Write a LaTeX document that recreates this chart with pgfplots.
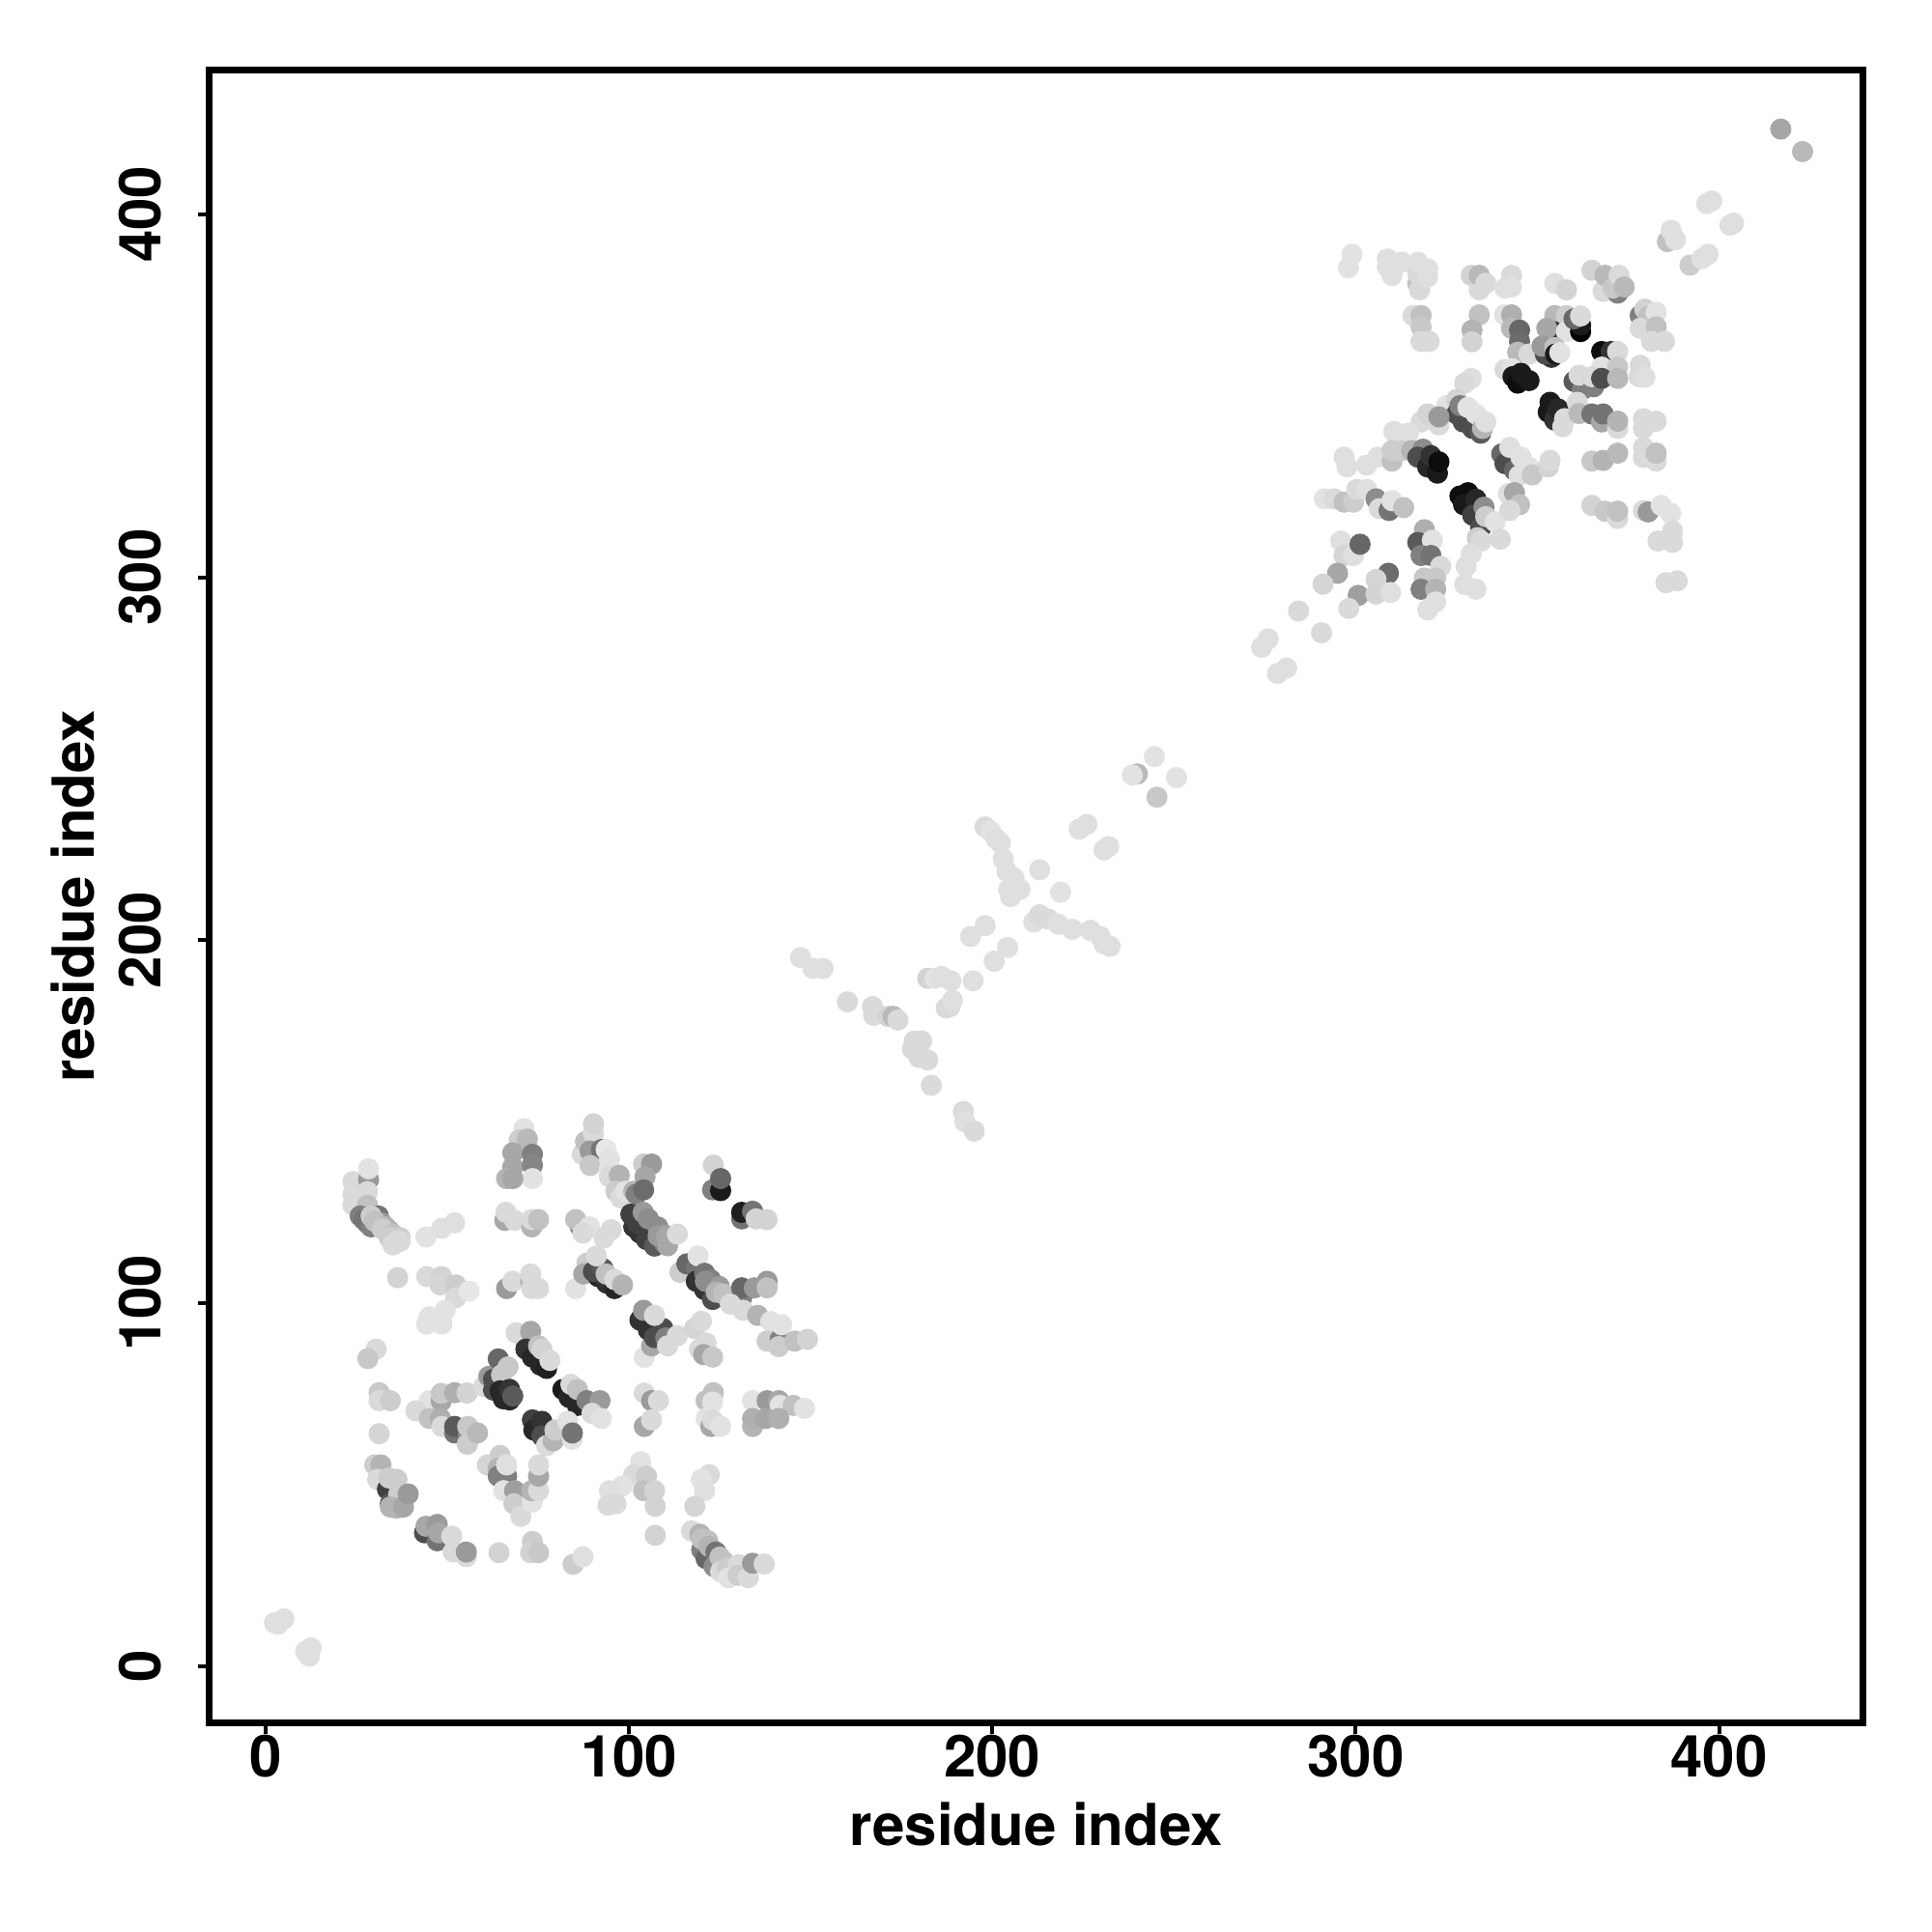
\documentclass[border=0pt]{standalone}
\usepackage{fontspec}
\setmainfont{TeX Gyre Heros}
\usepackage{pgfplots}
\usepackage{pgfplotstable}
\pgfplotsset{compat=1.18}
% filled circle without any stroke
\pgfdeclareplotmark{dot}{\pgfpathcircle{\pgfpointorigin}{\pgfplotmarksize}\pgfusepathqfill}
% x y grey level (0 black, 1 white), dark points first in each group so the light ones lie on top
\pgfplotstableread{
x y g
3.4 11.5 .87
5 13 .87
2.4 11.9 .87
11 4 .87
12.5 5 .87
12 2.7 .87
24 133.5 .85
24 130 .85
24 127 .85
28.3 134 .6
28.3 137 .88
28 130.7 .85
28 127 .75
26 124 .5
27 123 .45
28 122 .45
29 121 .5
31 124 .45
32 122 .6
29 124 .8
30 122.5 .75
33 121 .7
34 120 .7
32 120.5 .8
35 119 .75
34 118 .8
35 116 .85
37 118 .8
36 117 .85
37 117 .85
44.1 118.2 .88
48.4 120.6 .87
52 122.1 .87
36.3 107 .82
44.3 107.3 .85
48.4 107.3 .82
48 105 .83
52.3 105 .8
52.3 101.5 .85
56 103.3 .9
49.4 98 .88
45 96.2 .88
44.3 94.2 .88
48.5 94.2 .88
30.4 87.3 .85
28.1 84.7 .78
31.2 75.3 .78
31.2 73.1 .85
34.3 73.1 .8
31.2 64 .83
45 73.1 .88
48.3 73 .65
48.3 75.1 .78
52 75.3 .68
55.4 75.2 .82
41.3 70.3 .85
45 68.2 .75
48.1 68.2 .68
48.5 66 .85
52 64.2 .45
52 66 .35
55.8 63.8 .55
55.6 66 .78
55.5 61.1 .8
58.3 64.2 .72
30 55.4 .8
31.7 55.4 .7
30.8 51.4 .85
33.5 48.7 .25
34.3 44.7 .35
33.9 51.8 .8
36.1 51.4 .8
36.6 47.4 .8
34.3 43.8 .7
36 43.5 .7
37.9 43.8 .65
39.2 47.4 .6
43.7 36.7 .3
44.1 38.5 .65
47.2 34.5 .45
47.2 39 .6
47.6 36.7 .65
51.2 35.8 .85
51.6 31.4 .85
55.2 30.1 .85
55.2 31.4 .6
64.2 31.2 .82
73.4 34.3 .8
72.9 31.2 .82
75.1 31.2 .78
84.6 28 .8
87.3 30.1 .87
71.1 148.1 .88
69.8 145 .8
72 145.2 .72
68 141.4 .65
73.4 141 .5
68 137.5 .65
73.4 138 .52
73.4 134.3 .88
66.3 134.3 .7
68 134.3 .65
65.8 122.8 .65
66.1 125 .85
68.5 122.8 .85
73.2 121 .7
73.2 123 .85
75.1 123 .75
66.3 104 .6
68 106 .85
72.9 106 .7
72.9 108 .85
73.2 104 .85
75.1 104 .85
86.6 121 .5
85.3 123 .75
89.1 121 .88
87.3 119.3 .85
95.1 120.2 .85
93.1 118 .85
87.1 141 .85
88 144.5 .75
90.2 146.8 .85
90.2 149.4 .82
89.3 141.9 .6
92.4 142.3 .45
89.3 137.9 .78
93.7 142.3 .9
94.6 139.7 .88
94.6 137 .88
94.6 134.8 .85
97.3 135.2 .7
96.4 130.8 .8
97.7 129 .85
99 130.8 .88
101.3 130.8 .7
102 130 .5
104 138.3 .8
106.2 138.3 .6
104.4 134.8 .65
104 131.2 .42
101.3 121 .2
103 119.3 .2
104.8 117.5 .25
107 115.7 .35
100.5 124.5 .25
102.3 122 .25
103.9 125 .6
105.3 123.2 .55
107.9 121 .55
109.7 116.6 .5
108 118.5 .6
109.7 118.8 .6
110.3 118.3 .65
110.6 115.8 .65
113.3 119 .85
123.2 138 .82
123 131.2 .5
125.2 131 .1
125.2 134.3 .4
131 123.2 .45
131 125 .12
134 125.3 .45
135 123.2 .82
138 123 .82
114 108.5 .8
115.9 110.8 .4
118.5 109.5 .45
119 113 .88
118.5 106 .2
120.8 103.7 .2
123 101 .3
120.8 108.2 .45
122.5 106.4 .5
121 106 .55
124.8 104.6 .6
124 103 .7
126 102.5 .75
131 101.5 .5
131 104.2 .4
134.5 104.2 .6
138 106 .6
138 104.2 .75
127.9 99.7 .85
131.4 98 .85
135.4 96.6 .7
139 94.9 .88
138 89.5 .8
141.6 90 .5
142 94 .88
141.2 88 .8
145.6 89.5 .75
149.1 90 .82
85.3 104 .88
88.4 111 .8
87.5 108 .65
91.5 107.3 .15
93.8 105.5 .2
96 104 .15
90.2 108.7 .3
92.8 109.5 .35
91 113 .85
93.7 108 .75
96 106.5 .85
98.2 105 .7
104.2 85 .88
106.2 88.2 .65
103 95.3 .2
105.3 92.6 .2
107 90.5 .3
109.3 93 .3
104 98 .6
107 96.6 .85
110.1 90.4 .5
110.6 88.2 .85
113.3 91 .85
118 93 .83
119.9 95 .85
119.4 87.3 .85
121.2 89 .85
120.5 85.8 .65
123 85.1 .78
60 77 .85
61.4 79.8 .6
62.7 79 .3
62.7 76 .3
64 84.6 .4
66.7 82.4 .78
64.9 80.2 .78
64.5 75.8 .15
65.4 73.6 .15
67.1 73.3 .15
67.1 76.2 .2
68 74.4 .35
68.9 91.8 .85
70.7 90.9 .85
72.9 92.2 .65
71.6 87.3 .2
73.4 85.1 .15
75.6 82.9 .15
77.3 82 .12
75.1 88.2 .75
76 87.3 .82
78.2 84.2 .85
81.8 76.2 .1
83.5 74 .15
85.8 71.8 .15
84 77.6 .85
85.8 76.2 .75
88.4 73.1 .5
92 73.1 .6
89.8 69.6 .85
92.4 68.2 .88
73.4 67.8 .25
73.8 65 .15
76 67.4 .2
76 63.4 .3
77.3 60.7 .85
79.1 62 .7
79.6 65 .8
83.1 67.4 .88
84.4 62.5 .88
84.4 64.2 .45
104.2 75.2 .85
106.2 73.1 .6
108.1 73.1 .85
104.2 66 .65
106.2 67.8 .85
121.2 73.1 .75
123.2 75.3 .75
123 72.7 .88
121.2 68.2 .88
122.5 66 .65
123 67.8 .85
125.2 66 .88
134 73.1 .88
138 73.1 .6
141.2 73.1 .65
141.6 71.8 .88
145.2 71.8 .75
148.3 71 .88
134 66 .7
134 68.2 .68
137.6 68.2 .65
141.2 68.2 .68
103.2 56.3 .88
101.3 52.7 .85
104.8 52.3 .8
104 48.3 .75
107 48.3 .82
107.2 44 .82
98.2 49.6 .88
94.6 48.3 .87
94.2 44.3 .85
96.4 44.7 .85
107.2 36 .82
122.1 52.7 .85
119.9 51.4 .88
120.8 48.3 .87
118.1 44 .83
117.2 37.2 .85
119.5 36.3 .7
120 32 .5
121.7 34.5 .75
120 35 .75
121.2 29.6 .4
122 33 .7
123.9 31.4 .45
123.4 27.4 .55
125 30 .75
126.1 28.8 .75
125.2 26 .85
127 27 .8
130.1 27.9 .85
127.4 24.3 .88
130 25 .8
132.8 24.3 .85
134 28.3 .6
137.2 28.1 .85
61 55.4 .83
64.5 58 .8
64 54.5 .7
64 52.3 .5
66.3 52.3 .5
66.3 55.4 .87
65.5 48.3 .88
68.5 48.3 .62
68.3 44.7 .8
70.2 41.2 .85
73.4 45.2 .88
73.2 48.3 .7
75.1 48.3 .85
75.1 52.3 .65
75.1 55.4 .85
147.2 195.2 .87
150.6 192.2 .87
153.4 192.2 .87
160.1 183 .85
167 181.7 .85
167.3 179.3 .85
171.3 179 .82
172.7 179 .72
174 178 .85
178.5 172.2 .85
180.5 172.2 .85
178 170 .85
179.8 167.7 .85
182.2 167 .85
183.2 160 .85
192 152.8 .85
192.4 150 .87
195 147.4 .85
182.2 189.5 .82
184.2 189.5 .88
186 190 .87
187.3 181.3 .85
188.3 181.7 .85
189 183.4 .87
188.6 188.8 .87
194 201 .87
198 204 .87
194.7 188.8 .87
200.5 194.2 .87
204.2 198 .87
198 231.2 .85
199.5 230 .88
201 228 .87
202.2 226.8 .87
203 222.4 .87
204 219 .87
206 217 .87
207.6 214 .87
205 212 .87
204.5 214 .87
213 219.4 .87
218.8 213.2 .88
211.4 205 .87
213 207 .85
215.4 205.8 .85
218.2 204.4 .87
222 203 .87
227 202.7 .87
229.7 201 .87
230.7 199 .87
232.4 198.3 .87
223.9 230.6 .87
226 231.9 .87
230.7 224.8 .87
232 225.8 .87
239.9 245.8 .72
238.5 245.5 .88
244.6 250.6 .88
245.3 239.4 .78
250.7 244.8 .88
274.1 280.7 .87
275.9 283 .87
278.5 273.5 .87
281 275 .87
284.3 290.7 .85
290.6 284.7 .85
298 385.3 .88
299 389 .88
308.7 387.7 .87
308.7 385.5 .87
310 383.2 .87
312.7 386.8 .87
317.1 381 .75
317.6 379.2 .85
317.1 383.7 .85
317.1 386.8 .87
319.8 385 .87
319.8 382.8 .87
315.8 372.1 .85
318 372.1 .75
318 369 .78
318 365 .85
320.2 365 .85
334 372.3 .75
332 368.1 .7
332 364.9 .82
331.8 383.2 .82
334 379.2 .85
334 383.2 .72
335.8 381 .85
341.1 379.7 .87
342.9 383.2 .85
342.9 380 .87
354.8 381 .87
358 379.2 .82
365 384.6 .82
368.1 378.8 .85
368.6 383.2 .72
372.1 378.3 .5
370.8 379.7 .78
372.5 383.2 .85
373.9 380 .72
341 372.3 .88
342.9 372.3 .68
342.9 368.6 .72
345.1 368.1 .4
345.1 365 .42
344.6 362 .72
347.7 361.5 .85
354.8 372.1 .72
358 372.1 .8
354.4 367.7 .2
352.6 368.6 .65
358 367.7 .88
361.9 367.7 0
361.9 369.5 .1
360.1 371.2 .4
361.9 372 .85
353.9 360.6 .2
352.2 361.5 .3
351.3 363.7 .6
354.8 363.3 .75
355 361.5 .1
356.2 361.9 .88
367.7 362.2 .05
370.3 362.2 .2
372.1 362.2 .85
367.7 357.9 .88
372.1 357.9 .78
360.1 354 .35
362.4 351.7 .5
361.5 355.7 .85
365.5 352.5 .5
365 355.3 .85
367.7 354.8 .3
372.1 354.8 .72
378.3 358.4 .85
378 355.3 .85
379.6 355.1 .87
378.3 372.1 .5
379.6 373.9 .82
380.5 371.8 .75
382.7 373 .88
378.3 368.6 .85
382.7 369 .75
381.4 365 .85
385 365 .85
341.1 357.2 .85
343 357.5 .88
343.3 355.3 .1
344.6 353.5 .05
345.5 356.2 .1
347.7 354.2 .1
353 345.5 .1
353.5 348.2 .1
354.8 343.3 .2
355.7 346.4 .15
357 341.5 .85
357.5 343.7 .85
361 348.2 .85
361.5 345.1 .72
365 345 .45
367.7 342.8 .65
368.1 345 .45
372.1 341 .85
372.1 343 .7
379.2 341 .85
379.2 343.7 .85
382.7 343 .85
379.2 335.8 .85
379.2 333 .85
382.7 332 .85
382.7 334.2 .75
365 332 .78
368.1 332.2 .7
372.1 334.2 .72
365 319.8 .82
368.6 318.2 .78
372.1 316.2 .85
372.1 318.2 .75
379.2 318.4 .85
380.5 318 .6
384.1 319.8 .88
386.7 317.6 .88
387.2 312.7 .85
383.2 310 .85
387.2 309.6 .85
385.4 298.5 .85
388.5 299 .85
331.8 354.8 .87
330 353.5 .85
325 347.3 .88
327.8 349 .82
327.8 345 .3
329.6 342.8 .3
332.2 341 .3
334.4 339.7 .35
328.7 347.3 .5
330.9 346.8 .88
333.1 345 .88
334.9 341 .7
335.8 342.8 .87
318 342.8 .85
319.8 345 .82
322.9 342 .85
322.9 344.2 .6
310.5 340.2 .87
314.5 339.7 .87
296.8 333.1 .87
297.6 330.4 .87
303 330.9 .87
306.1 333.1 .87
310 332 .75
310 334.9 .8
312.7 334.9 .8
315.4 334.9 .7
318.5 335.3 .55
317.1 333.1 .3
319.8 330.4 .15
322.5 328.7 .1
320.7 333.5 .2
322.9 331.8 .05
340.2 334 .4
341.1 331.3 .3
343.7 329.5 .4
342.4 335.8 .87
345.5 333.1 .88
345 328 .87
347.7 330.4 .88
348.6 328.2 .78
353 330.4 .82
353.5 332.2 .85
328.7 322.4 .05
330.9 323.3 .05
329.7 320 .1
333.1 321.5 .15
332.2 317.1 .25
335.3 319.3 .55
334.4 313.6 .3
335.8 316.7 .8
333.5 310.9 .8
334.5 310 .85
338.4 315.3 .88
339.8 310.5 .85
342 323 .87
343.7 323.3 .65
345.1 320 .75
342.4 318.4 .85
291.4 321.6 .88
294.1 321.6 .85
296.8 320.7 .75
299.4 320.7 .8
300.3 324.2 .85
303 324.2 .87
305.6 321.6 .55
306.5 318.9 .85
309.2 318.4 .45
310 321.1 .88
313.2 319.2 .75
295.9 310 .87
296.8 306 .83
299.4 306 .87
301.2 309.1 .4
295 301.1 .65
291 298.1 .83
309 301.1 .42
305.6 299.4 .83
300.7 295 .62
298.1 291.4 .85
305.6 295.4 .82
309.6 295.8 .87
318.9 313.1 .68
317.1 309.6 .35
321.1 310.2 .88
318 306 .5
320.7 306 .45
323.4 303 .85
318.9 299.8 .78
322 299.8 .78
318 296.7 .5
322 296.7 .7
322 293.2 .87
319.8 291 .87
331.8 306.5 .87
330.4 303 .87
330 298 .87
333.1 296.7 .87
385.8 392.5 .75
386.8 395.6 .87
388 393 .87
392 386 .8
395.3 387.8 .87
397 389 .87
396.6 403 .87
398 403.7 .87
403 397 .87
404 397.6 .87
417 423.5 .65
423 417.3 .72
}\contacts
\begin{document}
\begin{tikzpicture}
\path[use as bounding box] (-54.2pt,-54.2pt) rectangle (445.8pt,445.8pt);
\begin{axis}[
    scale only axis,
    width=428pt,
    height=427.6pt,
    at={(0pt,0pt)},
    anchor=south west,
    xmin=-15.5, xmax=439.7,
    ymin=-15.6, ymax=439.7,
    axis line style={line width=1.7pt},
    xtick={0,100,200,300,400},
    ytick={0,100,200,300,400},
    tick align=outside,
    tick pos=left,
    tick style={black,line width=1pt},
    major tick length=3pt,
    /pgf/number format/assume math mode=true,
    tick label style={font=\fontsize{15}{16}\selectfont\bfseries},
    xticklabel style={yshift=3.2pt},
    yticklabel style={rotate=90,anchor=south,yshift=5.8pt},
    label style={font=\fontsize{15}{16}\selectfont\bfseries},
    xlabel style={yshift=0.6pt},
    ylabel style={yshift=-0.6pt},
    xlabel={residue index},
    ylabel={residue index},
    colormap={greys}{gray(0cm)=(0);gray(1cm)=(1)},
    point meta min=0,
    point meta max=1,
]
\addplot[
    scatter,
    only marks,
    mark=dot,
    mark size=2.75pt,
    scatter/use mapped color={fill=mapped color},
    scatter src=explicit,
] table[x=x,y=y,meta=g] {\contacts};
\end{axis}
\end{tikzpicture}
\end{document}
